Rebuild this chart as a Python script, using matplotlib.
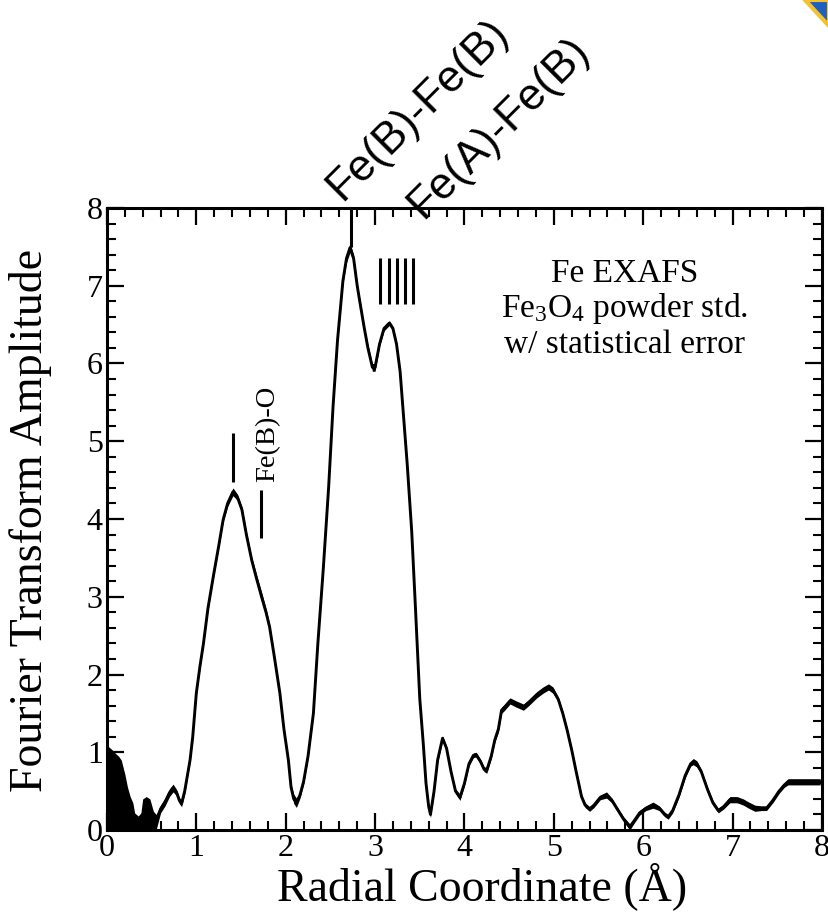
import numpy as np
import matplotlib
matplotlib.use("Agg")
import matplotlib.pyplot as plt
from matplotlib.patches import Polygon
from matplotlib.ticker import MultipleLocator

plt.rcParams['font.family'] = 'Liberation Serif'
plt.rcParams['mathtext.fontset'] = 'custom'
plt.rcParams['mathtext.rm'] = 'Liberation Serif'

# --- data ---
r = [0.00, 0.03, 0.06, 0.10, 0.13, 0.16, 0.20, 0.23, 0.26, 0.29, 0.31, 0.35, 0.38, 0.40, 0.44, 0.48, 0.52, 0.55,
     0.60, 0.65, 0.70, 0.74, 0.78, 0.81, 0.835, 0.87, 0.90, 0.93, 0.96, 1.00, 1.04, 1.08, 1.13, 1.19, 1.25, 1.30,
     1.35, 1.41, 1.46, 1.51, 1.56, 1.62, 1.67, 1.73, 1.78, 1.82, 1.87, 1.935, 1.98, 2.03, 2.06, 2.09, 2.12, 2.16,
     2.20, 2.25, 2.31, 2.36, 2.42, 2.48, 2.53, 2.58, 2.64, 2.68, 2.72, 2.76, 2.80, 2.83, 2.88, 2.92, 2.97, 3.00,
     3.05, 3.10, 3.16, 3.20, 3.24, 3.28, 3.31, 3.36, 3.41, 3.45, 3.50, 3.54, 3.57, 3.60, 3.62, 3.66, 3.70, 3.755,
     3.80, 3.85, 3.90, 3.95, 4.00, 4.05, 4.10, 4.13, 4.18, 4.22, 4.25, 4.30, 4.34, 4.38, 4.415, 4.45, 4.51, 4.58,
     4.66, 4.72, 4.81, 4.88, 4.94, 4.99, 5.05, 5.10, 5.15, 5.20, 5.25, 5.31, 5.35, 5.40, 5.45, 5.52, 5.59, 5.65,
     5.72, 5.78, 5.85, 5.90, 5.96, 6.03, 6.11, 6.18, 6.24, 6.28, 6.33, 6.40, 6.47, 6.53, 6.56, 6.60, 6.65, 6.72,
     6.78, 6.84, 6.90, 6.97, 7.05, 7.12, 7.18, 7.25, 7.32, 7.38, 7.45, 7.52, 7.58, 7.62, 7.80, 7.98]
amp = [0.545, 0.53, 0.515, 0.49, 0.475, 0.45, 0.36, 0.275, 0.215, 0.175, 0.11, 0.09, 0.11, 0.20, 0.215, 0.20, 0.12, 0.10,
       0.27, 0.36, 0.48, 0.54, 0.48, 0.38, 0.34, 0.50, 0.70, 0.90, 1.20, 1.76, 2.10, 2.40, 2.85, 3.26, 3.65, 3.99,
       4.20, 4.35, 4.28, 4.12, 3.80, 3.47, 3.25, 3.00, 2.80, 2.61, 2.25, 1.76, 1.30, 0.90, 0.55, 0.40, 0.35, 0.45,
       0.62, 0.95, 1.50, 2.40, 3.35, 4.40, 5.45, 6.30, 7.06, 7.35, 7.49, 7.35, 7.00, 6.79, 6.45, 6.20, 5.95, 5.95,
       6.25, 6.45, 6.52, 6.45, 6.25, 5.90, 5.45, 4.70, 3.84, 2.90, 1.69, 1.10, 0.60, 0.30, 0.20, 0.50, 0.90, 1.18,
       1.05, 0.75, 0.50, 0.42, 0.60, 0.85, 0.96, 0.97, 0.88, 0.78, 0.77, 0.95, 1.16, 1.30, 1.54, 1.58, 1.66, 1.62,
       1.58, 1.64, 1.74, 1.80, 1.84, 1.80, 1.68, 1.50, 1.28, 1.03, 0.75, 0.43, 0.32, 0.27, 0.32, 0.42, 0.45, 0.38,
       0.25, 0.14, 0.04, 0.12, 0.22, 0.28, 0.32, 0.28, 0.20, 0.17, 0.25, 0.45, 0.70, 0.85, 0.88, 0.85, 0.75, 0.52,
       0.35, 0.25, 0.30, 0.39, 0.39, 0.36, 0.32, 0.28, 0.28, 0.28, 0.38, 0.50, 0.58, 0.62, 0.62, 0.62]
err = [0.545, 0.53, 0.515, 0.49, 0.475, 0.45, 0.36, 0.275, 0.215, 0.175, 0.11, 0.09, 0.11, 0.20, 0.215, 0.20, 0.12, 0.10,
       0.05, 0.05, 0.05, 0.05, 0.04, 0.04, 0.04, 0.04, 0.03, 0.03, 0.03, 0.03, 0.03, 0.03, 0.03, 0.03, 0.03, 0.03,
       0.04, 0.05, 0.04, 0.04, 0.04, 0.04, 0.05, 0.06, 0.05, 0.04, 0.03, 0.03, 0.03, 0.03, 0.04, 0.06, 0.06, 0.04,
       0.03, 0.03, 0.03, 0.03, 0.03, 0.03, 0.03, 0.03, 0.04, 0.05, 0.06, 0.05, 0.04, 0.04, 0.03, 0.04, 0.05, 0.05,
       0.03, 0.03, 0.03, 0.03, 0.03, 0.03, 0.03, 0.03, 0.03, 0.03, 0.03, 0.03, 0.03, 0.04, 0.04, 0.03, 0.03, 0.03,
       0.03, 0.03, 0.03, 0.04, 0.03, 0.03, 0.03, 0.03, 0.03, 0.03, 0.04, 0.03, 0.03, 0.04, 0.04, 0.04, 0.04, 0.04,
       0.04, 0.04, 0.04, 0.04, 0.04, 0.04, 0.03, 0.03, 0.03, 0.03, 0.03, 0.03, 0.03, 0.03, 0.03, 0.03, 0.04, 0.03,
       0.03, 0.03, 0.04, 0.03, 0.03, 0.03, 0.04, 0.03, 0.03, 0.03, 0.03, 0.03, 0.03, 0.03, 0.04, 0.04, 0.03, 0.03,
       0.03, 0.03, 0.03, 0.04, 0.04, 0.04, 0.04, 0.04, 0.03, 0.03, 0.03, 0.03, 0.03, 0.04, 0.04, 0.04]

# marker lines: (x, ymin, ymax)
fe_bfe_b = (2.73, 7.5, 8.0)
fe_afe_b_x = [3.06, 3.16, 3.24, 3.33, 3.42]
fe_afe_b_y = (6.76, 7.36)
fe_b_o = [(1.41, 4.48, 5.10), (1.72, 3.76, 4.37)]

r = np.array(r); amp = np.array(amp); err = np.array(err)

fig = plt.figure(figsize=(8.29, 9.13), dpi=100)
ax = fig.add_axes([0.129, 0.0909, 0.8625, 0.6813])

ax.fill_between(r, np.clip(amp - err, 0, None), amp + err, color='black', linewidth=0)
ax.plot(r, amp, color='black', lw=2.1)

ax.vlines(fe_bfe_b[0], fe_bfe_b[1], fe_bfe_b[2], color='black', lw=2.2)
ax.vlines(fe_afe_b_x, fe_afe_b_y[0], fe_afe_b_y[1], color='black', lw=2.2)
for x, y0, y1 in fe_b_o:
    ax.vlines(x, y0, y1, color='black', lw=2.2)

ax.set_xlim(0, 8); ax.set_ylim(0, 8)
ax.xaxis.set_major_locator(MultipleLocator(1)); ax.xaxis.set_minor_locator(MultipleLocator(0.2))
ax.yaxis.set_major_locator(MultipleLocator(1)); ax.yaxis.set_minor_locator(MultipleLocator(0.2))
ax.tick_params(which='both', direction='in', top=True, right=True, labelsize=23, pad=3)
ax.tick_params(which='major', length=12, width=1.6)
ax.tick_params(which='minor', length=6.5, width=1.5)
for s in ax.spines.values(): s.set_linewidth(2.2)

ax.set_xlabel("Radial Coordinate (Å)", fontsize=33)
ax.set_ylabel("Fourier Transform Amplitude", fontsize=33)
ax.xaxis.set_label_coords(0.524, -0.052)
ax.yaxis.set_label_coords(-0.077, 0.497)

ax.text(5.79, 7.16, "Fe EXAFS", fontsize=24, ha='center', va='center')
ax.text(5.79, 6.71, r"$\mathregular{Fe_3O_4}$ powder std.", fontsize=24, ha='center', va='center')
ax.text(5.79, 6.24, "w/ statistical error", fontsize=24, ha='center', va='center')

ax.text(1.80, 4.48, "Fe(B)-O", fontsize=20.5, rotation=90, ha='center', va='bottom')

ax.text(2.63, 8.08, "Fe(B)-Fe(B)", family='Liberation Sans', fontsize=32, rotation=45,
        rotation_mode='anchor', ha='left', va='baseline', clip_on=False)
ax.text(3.54, 7.85, "Fe(A)-Fe(B)", family='Liberation Sans', fontsize=32, rotation=45,
        rotation_mode='anchor', ha='left', va='baseline', clip_on=False)

# cropped logo in the top right corner
W, H = 829, 913
fig.patches.append(Polygon([(805 / W, 1), (1, 1), (1, 1 - 26 / H)], closed=True, transform=fig.transFigure,
                           facecolor='#1f5fbf', edgecolor='#f2c230', lw=3))

fig.savefig("out.png", dpi=100)
